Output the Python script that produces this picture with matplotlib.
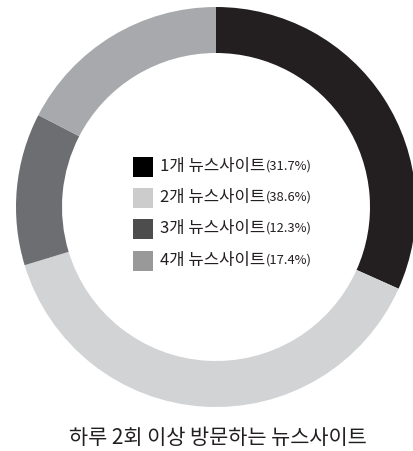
import matplotlib.pyplot as plt
from matplotlib.patches import Rectangle

# 하루 2회 이상 방문하는 뉴스사이트 수 비율
labels = ['1개 뉴스사이트', '2개 뉴스사이트', '3개 뉴스사이트', '4개 뉴스사이트']
shares = [31.7, 38.6, 12.3, 17.4]
ring_colors = ['#231f20', '#d1d3d4', '#6d6e71', '#a7a9ac']
key_colors = ['#000000', '#cccccc', '#4d4d4d', '#999999']
title = '하루 2회 이상 방문하는 뉴스사이트'

W, H = 414, 451
KR = ['Noto Sans CJK KR', 'DejaVu Sans']

fig = plt.figure(figsize=(W / 100, H / 100), dpi=100)
ax = fig.add_axes([0, 0, 1, 1])

ax.pie(shares, colors=ring_colors, startangle=90, counterclock=False,
       radius=200, center=(216, H - 207),
       wedgeprops=dict(width=46, linewidth=0))

ax.set_xlim(0, W)
ax.set_ylim(0, H)
ax.set_aspect('equal')
ax.axis('off')

# key in the middle of the ring
row_y = [166.5, 197.5, 228.5, 260.5]
for lab, val, col, py in zip(labels, shares, key_colors, row_y):
    y = H - py
    ax.add_patch(Rectangle((133, y - 10), 20, 20, facecolor=col, edgecolor='none'))
    t = ax.text(160, y, lab, fontsize=12, family=KR,
                ha='left', va='center', color='#231f20')
    ax.annotate(f'({val}%)', xy=(1, 0.5), xycoords=t, xytext=(0.3, 0),
                textcoords='offset points', fontsize=9.3, family=KR,
                ha='left', va='center', color='#231f20')

ax.text(218, H - 438, title, fontsize=15, family=KR,
        ha='center', va='center', color='#231f20')

fig.savefig('out.png', dpi=100)
